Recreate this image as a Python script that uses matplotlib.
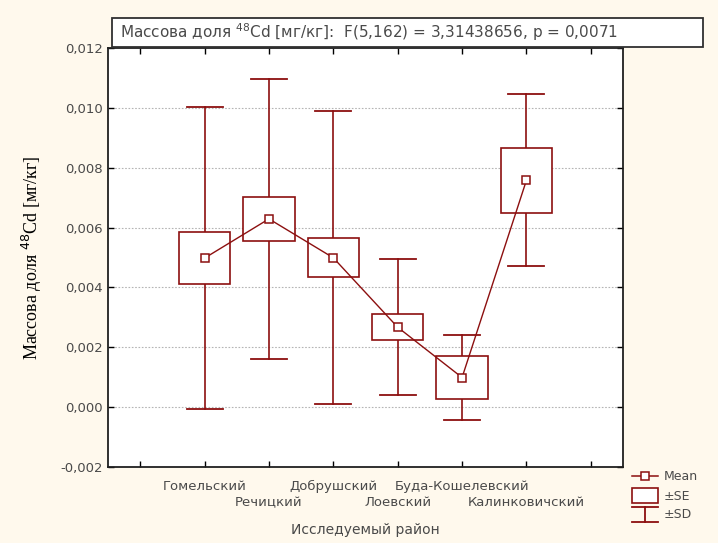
import matplotlib
matplotlib.use("Agg")
import matplotlib.pyplot as plt
from matplotlib.patches import Rectangle
from matplotlib.lines import Line2D

districts = ['Гомельский', 'Речицкий', 'Добрушский', 'Лоевский',
             'Буда-Кошелевский', 'Калинковичский']
means = [0.00498, 0.00629, 0.00499, 0.00267, 0.00099, 0.00758]
se = [0.00087, 0.00074, 0.00065, 0.00043, 0.00071, 0.00109]
sd = [0.00505, 0.00467, 0.00489, 0.00228, 0.00142, 0.00288]

title = 'Массова доля $^{48}$Cd [мг/кг]:  F(5,162) = 3,31438656, p = 0,0071'
ylabel = 'Массова доля $^{48}$Cd [мг/кг]'
xlabel = 'Исследуемый район'

RED = '#8c0f0f'
BG = '#fff9ed'
TXT = '#4a4a4a'
W, H = 718, 543

fig = plt.figure(figsize=(W / 100, H / 100), dpi=100, facecolor=BG)
ax = fig.add_axes([108 / W, 1 - 467 / H, (623 - 108) / W, (467 - 48) / H])
ax.set_facecolor('white')

xs = list(range(1, len(districts) + 1))
bw, cw = 0.8, 0.56
for x, m, s, d in zip(xs, means, se, sd):
    ax.add_patch(Rectangle((x - bw / 2, m - s), bw, 2 * s, facecolor='white',
                           edgecolor=RED, lw=1.2, zorder=3))
    ax.plot([x, x], [m + s, m + d], color=RED, lw=1.2, zorder=2)
    ax.plot([x, x], [m - s, m - d], color=RED, lw=1.2, zorder=2)
    ax.plot([x - cw / 2, x + cw / 2], [m + d, m + d], color=RED, lw=1.3, zorder=2)
    ax.plot([x - cw / 2, x + cw / 2], [m - d, m - d], color=RED, lw=1.3, zorder=2)
ax.plot(xs, means, color=RED, lw=1.0, marker='s', ms=5.5, mfc='white',
        mec=RED, mew=1.1, zorder=4)

ax.set_xlim(-0.5, 7.5)
ax.set_ylim(-0.002, 0.012)
yt = [-0.002 + 0.002 * i for i in range(8)]
ax.set_yticks(yt)
ax.set_yticklabels([f'{v:.3f}'.replace('.', ',') for v in yt])
ax.set_xticks(range(8))
# first row of category names as tick labels, second row as texts below
ax.set_xticklabels([''] + [n if i % 2 == 0 else ''
                           for i, n in enumerate(districts)] + [''])
for i, n in enumerate(districts):
    if i % 2 == 1:
        ax.text(xs[i], -(503 - 467) / 419, n, transform=ax.get_xaxis_transform(),
                ha='center', va='center', fontsize=9.5, color=TXT)
for v in yt[1:-1]:
    ax.axhline(v, color='#b5b5b5', lw=0.8, ls=(0, (1.5, 1.5)), zorder=1)

ax.tick_params(direction='in', length=4, width=1, top=True, right=True,
               labelsize=9.5, labelcolor=TXT)
ax.tick_params(axis='x', pad=9.5)
for sp in ax.spines.values():
    sp.set_linewidth(1.3)
    sp.set_color('#202020')

ax.set_xlabel(xlabel, fontsize=10, color=TXT)
ax.xaxis.set_label_coords(0.5, -(523 - 467) / 419)
ax.set_ylabel(ylabel, family='Liberation Serif', fontsize=13, labelpad=12)

# title box
fig.add_artist(Rectangle((112 / W, 1 - 47 / H), (703 - 112) / W, 29 / H,
                         transform=fig.transFigure, facecolor='white',
                         edgecolor='#303030', lw=1.3))
fig.text(120 / W, 1 - 32 / H, title, fontsize=11, color=TXT,
         va='center', ha='left')

# legend
def fx(px):
    return px / W

def fy(py):
    return 1 - py / H

kw = dict(transform=fig.transFigure, color=RED)
fig.add_artist(Line2D([fx(632), fx(658)], [fy(476), fy(476)], lw=1.1, **kw))
fig.add_artist(Line2D([fx(645)], [fy(476)], marker='s', ms=5.5, mfc='white',
                      mec=RED, mew=1.1, transform=fig.transFigure))
fig.add_artist(Rectangle((fx(632), fy(503)), (658 - 632) / W, 15 / H,
                         transform=fig.transFigure, facecolor='white',
                         edgecolor=RED, lw=1.2))
fig.add_artist(Line2D([fx(632), fx(658)], [fy(507), fy(507)], lw=1.3, **kw))
fig.add_artist(Line2D([fx(632), fx(658)], [fy(522), fy(522)], lw=1.3, **kw))
fig.add_artist(Line2D([fx(645), fx(645)], [fy(507), fy(522)], lw=1.3, **kw))
for py, lab in [(476, 'Mean'), (496, '±SE'), (514, '±SD')]:
    fig.text(fx(664), fy(py), lab, fontsize=9, color=TXT,
             va='center', ha='left')

fig.savefig('out.png', dpi=100, facecolor=BG)
